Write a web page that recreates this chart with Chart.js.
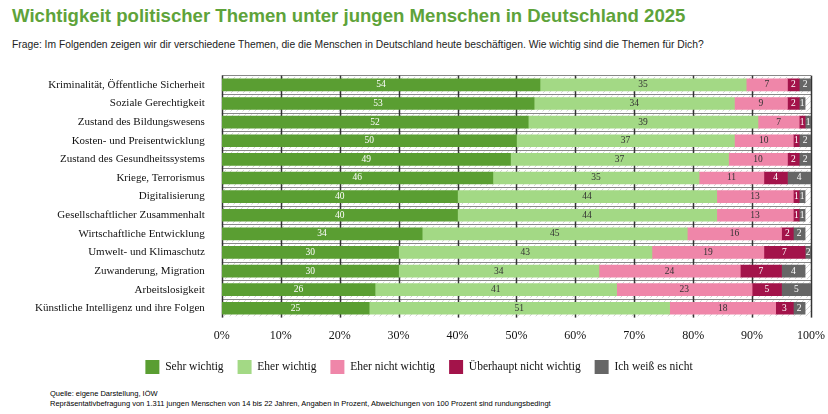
<!DOCTYPE html><html><head><meta charset="utf-8">
<script src="https://cdn.jsdelivr.net/npm/chart.js@4"></script>
<style>
body{margin:0;width:828px;height:414px;background:#fff;font-family:"Liberation Sans",sans-serif;position:relative;overflow:hidden}
#t{position:absolute;left:12px;top:5px;font-size:18.6px;font-weight:bold;color:#5ea33a}
#s{position:absolute;left:12px;top:39px;font-size:10.3px;color:#222}
#f{position:absolute;left:50px;top:389px;font-size:7.5px;color:#000;line-height:10px}
#w{position:absolute;left:0;top:60px;width:828px;height:324px}
</style></head><body>
<div id="t">Wichtigkeit politischer Themen unter jungen Menschen in Deutschland 2025</div>
<div id="s">Frage: Im Folgenden zeigen wir dir verschiedene Themen, die die Menschen in Deutschland heute beschäftigen. Wie wichtig sind die Themen für Dich?</div>
<div id="w"><canvas id="c"></canvas></div>
<div id="f">Quelle: eigene Darstellung, IÖW<br>Repräsentativbefragung von 1.311 jungen Menschen von 14 bis 22 Jahren, Angaben in Prozent, Abweichungen von 100 Prozent sind rundungsbedingt</div>
<script>
const categories=["Kriminalität, Öffentliche Sicherheit","Soziale Gerechtigkeit","Zustand des Bildungswesens","Kosten- und Preisentwicklung","Zustand des Gesundheitssystems","Kriege, Terrorismus","Digitalisierung","Gesellschaftlicher Zusammenhalt","Wirtschaftliche Entwicklung","Umwelt- und Klimaschutz","Zuwanderung, Migration","Arbeitslosigkeit","Künstliche Intelligenz und ihre Folgen"];
const sehrWichtig=[54,53,52,50,49,46,40,40,34,30,30,26,25];
const eherWichtig=[35,34,39,37,37,35,44,44,45,43,34,41,51];
const eherNicht=[7,9,7,10,10,11,13,13,16,19,24,23,18];
const ueberhauptNicht=[2,2,1,1,2,4,1,1,2,7,7,5,3];
const weissNicht=[2,1,1,2,2,4,1,1,2,2,4,5,2];
const xTicks=[0,10,20,30,40,50,60,70,80,90,100];
const serif='"Liberation Serif",serif';
const hatch=(()=>{const p=document.createElement('canvas');p.width=6;p.height=6;const g=p.getContext('2d');g.fillStyle='#fff';g.fillRect(0,0,6,6);g.strokeStyle='#d4d4d4';g.lineWidth=1;g.beginPath();g.moveTo(0,6);g.lineTo(6,0);g.moveTo(-1,1);g.lineTo(1,-1);g.moveTo(5,7);g.lineTo(7,5);g.stroke();return p;})();
const bg={id:'bg',beforeDatasetsDraw(ch){const {ctx,chartArea:a,scales:{y}}=ch;ctx.save();const pat=ctx.createPattern(hatch,'repeat');
categories.forEach((c,i)=>{const yc=y.getPixelForValue(i);ctx.fillStyle=pat;ctx.fillRect(a.left,yc-8,a.right-a.left,16);ctx.strokeStyle='#888';ctx.lineWidth=1;ctx.beginPath();ctx.moveTo(a.left,Math.round(yc-9.5)+0.5);ctx.lineTo(a.right,Math.round(yc-9.5)+0.5);ctx.stroke();});
const x=ch.scales.x;ctx.strokeStyle='#333';ctx.lineWidth=1.5;xTicks.forEach(t=>{const px=Math.round(x.getPixelForValue(t))+0.5;ctx.beginPath();ctx.moveTo(px,a.top);ctx.lineTo(px,a.bottom);ctx.stroke();});ctx.restore();}};
const lbl={id:'lbl',afterDatasetsDraw(ch){const {ctx,chartArea:a}=ch;ctx.save();ctx.font='9.5px '+serif;ctx.textAlign='center';ctx.textBaseline='middle';
ch.data.datasets.forEach((d,di)=>{ch.getDatasetMeta(di).data.forEach((b,i)=>{const v=d.data[i];const r=Math.min(b.x,a.right),l=Math.min(b.base,a.right-6);ctx.fillStyle=d.tc;ctx.fillText(v,(r+l)/2,b.y);});});ctx.restore();}};
const mk=(label,data,color,tc)=>({label,data,backgroundColor:color,tc,barThickness:12,borderWidth:0});
new Chart(document.getElementById('c'),{type:'bar',plugins:[bg,lbl],
data:{labels:categories,datasets:[mk('Sehr wichtig',sehrWichtig,'#5a9e32','#fff'),mk('Eher wichtig',eherWichtig,'#a3d985','#333'),mk('Eher nicht wichtig',eherNicht,'#ef86a9','#333'),mk('Überhaupt nicht wichtig',ueberhauptNicht,'#a3134a','#fff'),mk('Ich weiß es nicht',weissNicht,'#666666','#fff')]},
options:{indexAxis:'y',responsive:true,maintainAspectRatio:false,animation:false,
layout:{padding:{left:26,right:16,top:5}},
scales:{x:{stacked:true,min:0,max:100,grid:{display:false},border:{display:false},ticks:{stepSize:10,callback:v=>v+'%',color:'#111',font:{family:serif,size:12}}},
y:{stacked:true,grid:{display:false},border:{display:false},ticks:{padding:9,color:'#111',font:{family:serif,size:11}}}},
plugins:{tooltip:{enabled:false},legend:{position:'bottom',labels:{boxWidth:14,boxHeight:14,padding:14,color:'#111',font:{family:serif,size:11.5}}}}}});
</script></body></html>
